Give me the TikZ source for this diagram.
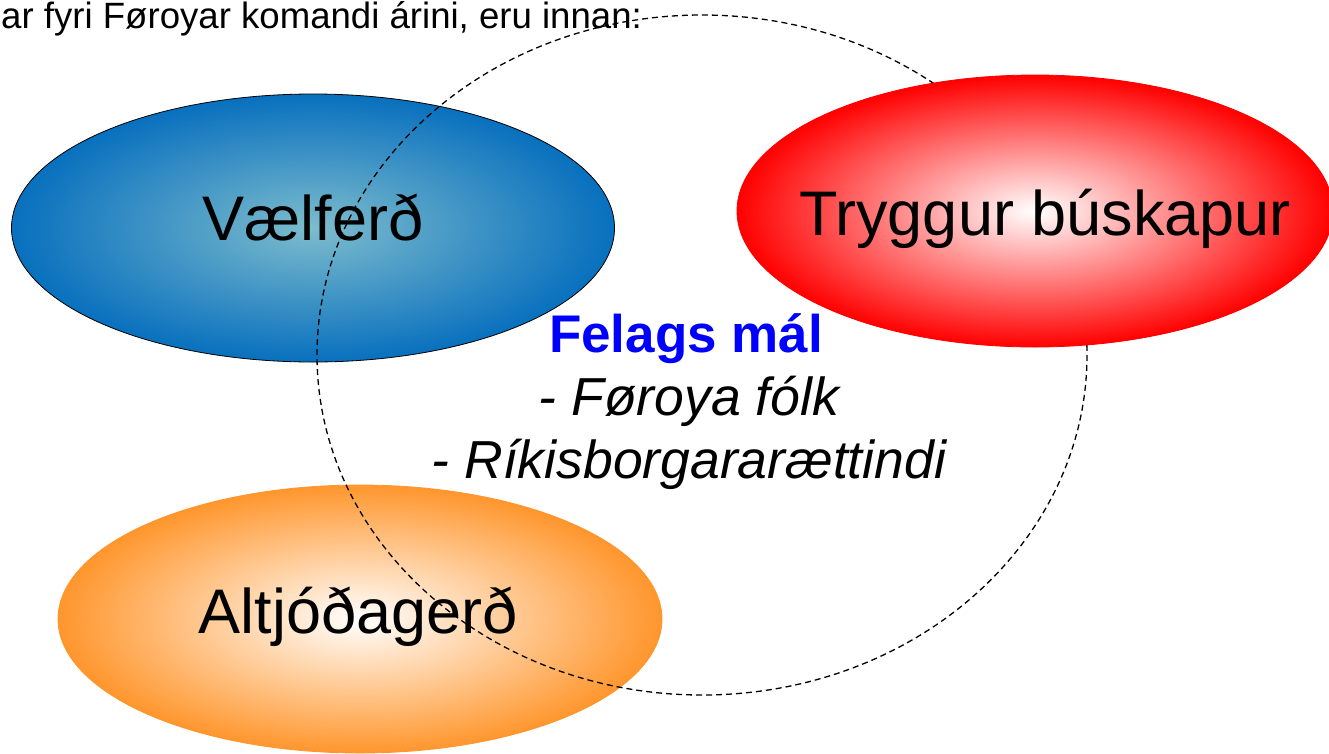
\documentclass[tikz,border=0pt]{standalone}
\usepackage{fontspec}
\setmainfont{Liberation Sans}
\usetikzlibrary{shapes.geometric}
\definecolor{blueedge}{RGB}{8,112,190}
\definecolor{bluecenter}{RGB}{125,188,205}
\definecolor{orangeedge}{RGB}{255,150,45}
\definecolor{rededge}{RGB}{255,0,0}
\tikzset{
  blob/.style={ellipse, minimum width=#1, minimum height=268pt, inner sep=0pt},
  label62/.style={anchor=base, font=\fontsize{63}{75}\selectfont, text=black},
  sub51/.style={anchor=base, font=\fontsize{53.5}{64}\selectfont\itshape, text=black},
}
\begin{document}
\begin{tikzpicture}[x=1pt,y=-1pt]
\useasboundingbox (0,0) rectangle (1329,753);
\node[blob=603pt, draw=black, line width=0.8pt, inner color=bluecenter, outer color=blueedge] (blue) at (313,228) {};
\node[blob=604pt, draw=orangeedge, line width=0.8pt, inner color=white, outer color=orangeedge] (orange) at (360,619) {};
\draw[dashed, dash pattern=on 6pt off 4pt, line width=1.3pt] (702,355) ellipse [x radius=385, y radius=340];
\node[blob=596pt, minimum height=272pt, draw=rededge, line width=0.8pt, inner color=white, outer color=rededge] (red) at (1035,211) {};
\node[anchor=base west, inner sep=0pt, font=\fontsize{36.6}{42}\selectfont] (top) at (1,28) {ar fyri Føroyar komandi árini, eru innan:};
\node[label62] (vl) at (313,240) {Vælferð};
\node[label62] (tb) at (1045,235) {Tryggur búskapur};
\node[label62] (al) at (358,633) {Altjóðagerð};
\node[anchor=base, font=\fontsize{53}{62}\selectfont\bfseries, text=blue] (fm) at (686,352) {Felags mál};
\node[sub51] (ff) at (689,415) {- Føroya fólk};
\node[sub51] (rk) at (689,478) {- Ríkisborgararættindi};
\end{tikzpicture}
\end{document}
